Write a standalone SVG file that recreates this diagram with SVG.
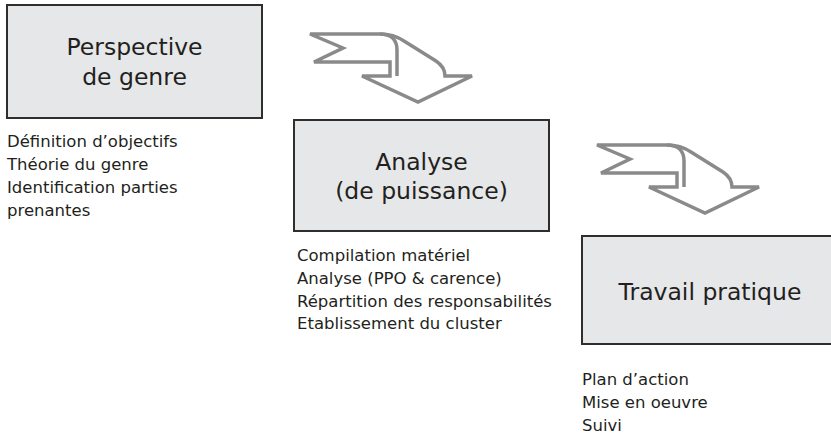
<svg xmlns="http://www.w3.org/2000/svg" width="831" height="435" viewBox="0 0 831 435">
<style>
.box{fill:#e6e7e8;stroke:#2e2e2e;stroke-width:2}
.title{font-family:"DejaVu Sans",Verdana,sans-serif;font-size:23.5px;fill:#231f20;text-anchor:middle}
.list{font-family:"DejaVu Sans",Verdana,sans-serif;font-size:16.5px;fill:#231f20}
.arr{fill:#fff;stroke:#8a8a8a;stroke-width:3.5;stroke-linejoin:miter}
.fold{fill:none;stroke:#8a8a8a;stroke-width:3.5}
</style>
<defs>
<g id="bent">
<path class="arr" d="M20,14 L90,14 C100,14 108,17 114,21 L146,41 C152,45 155,50 155,56 L182,56 L128,82 L72,56 L100,56 L100,42 L24,42 L53,28 Z"/>
<path class="fold" d="M90,14 C101,14 107,20 107,30 L107,56"/>
</g>
</defs>
<g id="connectors">
<use href="#bent" transform="translate(290,20)"/>
<use href="#bent" transform="translate(577,131)"/>
</g>
<g id="node-perspective">
<rect class="box" x="7" y="5" width="255" height="113"/>
<text class="title" x="134.5" y="55">Perspective</text>
<text class="title" x="134.5" y="85">de genre</text>
<text class="list" x="7" y="147">Définition d’objectifs</text>
<text class="list" x="7" y="170">Théorie du genre</text>
<text class="list" x="7" y="193">Identification parties</text>
<text class="list" x="7" y="216">prenantes</text>
</g>
<g id="node-analyse">
<rect class="box" x="294" y="120" width="255" height="111"/>
<text class="title" x="421.5" y="170">Analyse</text>
<text class="title" x="421.5" y="199">(de puissance)</text>
<text class="list" x="297" y="261">Compilation matériel</text>
<text class="list" x="297" y="284">Analyse (PPO &amp; carence)</text>
<text class="list" x="297" y="307">Répartition des responsabilités</text>
<text class="list" x="297" y="329">Etablissement du cluster</text>
</g>
<g id="node-travail">
<rect class="box" x="582" y="236" width="256" height="108"/>
<text class="title" x="710" y="300">Travail pratique</text>
<text class="list" x="582" y="385">Plan d’action</text>
<text class="list" x="582" y="408">Mise en oeuvre</text>
<text class="list" x="582" y="431">Suivi</text>
</g>
</svg>
